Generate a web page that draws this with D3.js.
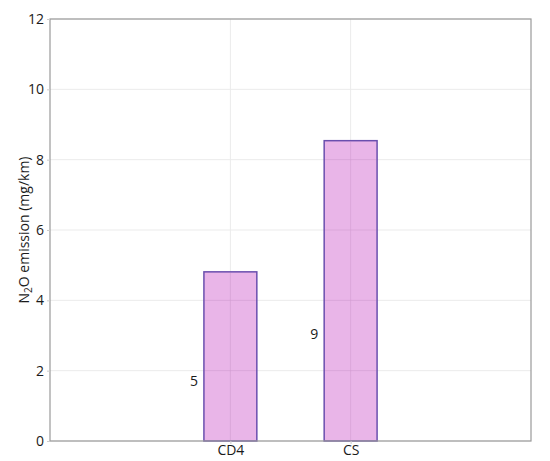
<!DOCTYPE html>
<html><head><meta charset="utf-8">
<script src="https://cdn.jsdelivr.net/npm/d3@7"></script>
<style>body{margin:0;background:#fff}svg{display:block}text{font-family:"Open Sans",sans-serif}</style>
</head><body>
<script>
const categories = ["CD4", "CS"];
const values = [4.81, 8.54];
const valueLabels = ["5", "9"];
const yTicks = [0, 2, 4, 6, 8, 10, 12];

const W = 550, H = 461;
const m = {left: 50, right: 19, top: 19, bottom: 20};
const FONT = "Open Sans, sans-serif";
const FS = 14;
const svg = d3.select("body").append("svg").attr("width", W).attr("height", H);

const x = d3.scaleLinear().domain([-1.5, 2.5]).range([m.left, W - m.right]);
const y = d3.scaleLinear().domain([0, 12]).range([H - m.bottom, m.top]);
const barW = x(0.44) - x(0);

// grid
const g = svg.append("g");
g.selectAll(".hg").data(yTicks).join("line")
  .attr("x1", m.left).attr("x2", W - m.right)
  .attr("y1", d => y(d)).attr("y2", d => y(d))
  .attr("stroke", "#ebebeb").attr("stroke-width", 1);
g.selectAll(".vg").data(categories).join("line")
  .attr("x1", (d, i) => x(i)).attr("x2", (d, i) => x(i))
  .attr("y1", m.top).attr("y2", H - m.bottom)
  .attr("stroke", "#ebebeb").attr("stroke-width", 1);

// bars
svg.selectAll(".bar").data(values).join("rect")
  .attr("x", (d, i) => x(i) - barW / 2)
  .attr("y", d => y(d))
  .attr("width", barW)
  .attr("height", d => y(0) - y(d))
  .attr("fill", "rgba(227,160,226,0.78)")
  .attr("stroke", "#6a4fae").attr("stroke-width", 1.5);

// grid over bars (faint)
svg.selectAll(".vg2").data(categories).join("line")
  .attr("x1", (d, i) => x(i)).attr("x2", (d, i) => x(i))
  .attr("y1", (d, i) => y(values[i]) + 1).attr("y2", H - m.bottom)
  .attr("stroke", "rgba(200,150,200,0.35)").attr("stroke-width", 1);
svg.selectAll(".hg2").data(yTicks.filter(t => t > 0)).join("g").each(function(t) {
  values.forEach((v, i) => {
    if (v > t) d3.select(this).append("line")
      .attr("x1", x(i) - barW / 2 + 1).attr("x2", x(i) + barW / 2 - 1)
      .attr("y1", y(t)).attr("y2", y(t))
      .attr("stroke", "rgba(200,150,200,0.35)");
  });
});

// value labels
svg.selectAll(".vl").data(values).join("text")
  .attr("x", (d, i) => x(i) - barW / 2 - 6)
  .attr("y", d => y(d * 0.355))
  .attr("dy", "0.35em")
  .attr("text-anchor", "end")
  .attr("font-size", FS).attr("fill", "#1a1a1a")
  .text((d, i) => valueLabels[i]);

// frame
svg.append("rect").attr("x", m.left).attr("y", m.top)
  .attr("width", W - m.right - m.left).attr("height", H - m.bottom - m.top)
  .attr("fill", "none").attr("stroke", "#9a9a9a").attr("stroke-width", 1.2);

// axes
const yAx = svg.append("g").attr("transform", `translate(${m.left},0)`)
  .call(d3.axisLeft(y).tickValues(yTicks).tickSize(3).tickPadding(3));
const xAx = svg.append("g").attr("transform", `translate(0,${H - m.bottom})`)
  .call(d3.axisBottom(x).tickValues([0, 1]).tickFormat(i => categories[i]).tickSize(3).tickPadding(1));
[yAx, xAx].forEach(a => {
  a.select(".domain").remove();
  a.selectAll(".tick line").attr("stroke", "#ccc");
  a.selectAll("text").attr("font-size", FS).attr("fill", "#1a1a1a").attr("font-family", FONT);
});

// y label
const yl = svg.append("text")
  .attr("transform", `translate(29,${(m.top + H - m.bottom) / 2}) rotate(-90)`)
  .attr("text-anchor", "middle").attr("font-size", FS).attr("fill", "#1a1a1a");
yl.append("tspan").text("N");
yl.append("tspan").text("2").attr("font-size", 10).attr("dy", 3);
yl.append("tspan").text("O emission (mg/km)").attr("dy", -3);
</script>
</body></html>
